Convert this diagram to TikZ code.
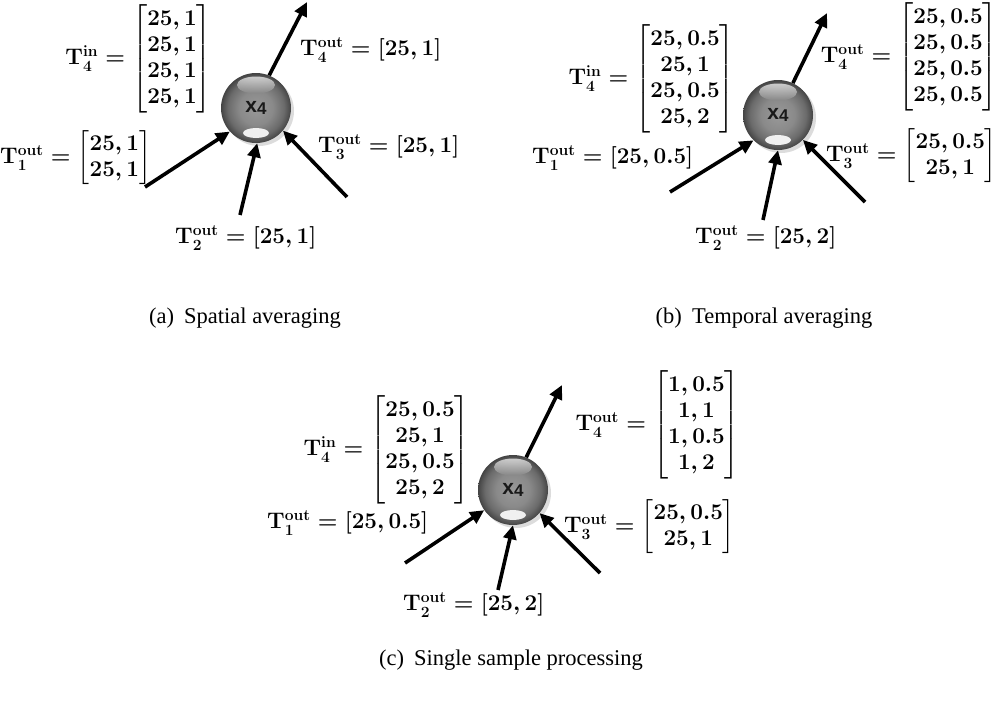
\documentclass[tikz,border=0pt]{standalone}
\usepackage{amsmath}
\usepackage{fontspec}
\newfontfamily\capfont{Liberation Serif}
\newfontfamily\sphfont{Liberation Sans}
\usetikzlibrary{arrows.meta,calc}
\pgfdeclareradialshading{sphereshade}{\pgfpoint{0bp}{0bp}}{color(0bp)=(black!40); color(12bp)=(black!46); color(20bp)=(black!58); color(24bp)=(black!70); color(25bp)=(black!74); color(50bp)=(black!74)}
\tikzset{
  sph/.style={circle, minimum size=70pt, inner sep=0pt, shading=sphereshade},
  lbl/.style={inner sep=0pt, font=\fontsize{20.74}{24}\selectfont},
  captext/.style={inner sep=0pt, font=\capfont\fontsize{22.5}{26}\selectfont},
  arr/.style={line width=3.6pt, -{Triangle[length=14pt,width=13pt]}}
}
\newcommand{\glossy}[1]{%
  \shade[top color=white!90!gray, bottom color=black!48, opacity=0.75] ($(#1)+(0,-23)$) ellipse [x radius=19pt, y radius=8.5pt];
  \fill[white!88!gray] ($(#1)+(0,25)$) ellipse [x radius=13pt, y radius=5pt];
}
\newcommand{\xfour}{\sphfont\bfseries\fontsize{21}{21}\selectfont x\raisebox{-1.5pt}{\fontsize{17}{17}\selectfont 4}}
\newcommand{\TT}[2]{\mathbf{T}^{\mathbf{#1}}_{#2}}
\setlength{\arraycolsep}{2.5pt}
\renewcommand{\arraystretch}{1.0}
\begin{document}
\begin{tikzpicture}[x=1pt,y=-1pt]
\useasboundingbox (0,0) rectangle (1000,701);
\boldmath
% ---------- panel (a)
\fill[black!30, opacity=0.45] (259,111) circle (35pt);
\node[sph] (xa) at (256,108) {};
\glossy{xa}
\node[text=black!90] (xat) at (xa) {\xfour};
\node[lbl, anchor=east] (a4in) at (212,59) {\scalebox{1.085}{$\TT{in}{4}=\begin{bmatrix}25,1\\25,1\\25,1\\25,1\end{bmatrix}$}};
\node[lbl, anchor=west] (a4out) at (300,50) {\scalebox{1.085}{$\TT{out}{4}=[25,1]$}};
\node[lbl, anchor=west] (a1out) at (0,158) {\scalebox{1.085}{$\TT{out}{1}=\begin{bmatrix}25,1\\25,1\end{bmatrix}$}};
\node[lbl, anchor=west] (a3out) at (318,147) {\scalebox{1.085}{$\TT{out}{3}=[25,1]$}};
\node[lbl, anchor=west] (a2out) at (175,238) {\scalebox{1.085}{$\TT{out}{2}=[25,1]$}};
\coordinate (ao) at (307,2);
\coordinate (a1) at (145,187);
\coordinate (a2) at (240,215);
\coordinate (a3) at (347,197);
\draw[arr] (xa.68) -- (ao);
\draw[arr] (a1) -- (xa.222);
\draw[arr] (a2) -- (xa.272);
\draw[arr] (a3) -- (xa.320);
\node[captext] (capa) at (245,318) {(a)\hspace{0.45em}Spatial averaging};
% ---------- panel (b)
\fill[black!30, opacity=0.45] (781,118) circle (35pt);
\node[sph] (xb) at (778,115) {};
\glossy{xb}
\node[text=black!90] (xbt) at (xb) {\xfour};
\node[lbl, anchor=east] (b4in) at (735,79) {\scalebox{1.085}{$\TT{in}{4}=\begin{bmatrix}25,0.5\\25,1\\25,0.5\\25,2\end{bmatrix}$}};
\node[lbl, anchor=east] (b4out) at (998,57) {\scalebox{1.085}{$\TT{out}{4}=\begin{bmatrix}25,0.5\\25,0.5\\25,0.5\\25,0.5\end{bmatrix}$}};
\node[lbl, anchor=west] (b1out) at (532,158) {\scalebox{1.085}{$\TT{out}{1}=[25,0.5]$}};
\node[lbl, anchor=east] (b3out) at (997,156) {\scalebox{1.085}{$\TT{out}{3}=\begin{bmatrix}25,0.5\\25,1\end{bmatrix}$}};
\node[lbl, anchor=west] (b2out) at (695,238) {\scalebox{1.085}{$\TT{out}{2}=[25,2]$}};
\coordinate (bo) at (827,13);
\coordinate (b1) at (670,192);
\coordinate (b2) at (763,220);
\coordinate (b3) at (865,202);
\draw[arr] (xb.65) -- (bo);
\draw[arr] (b1) -- (xb.226);
\draw[arr] (b2) -- (xb.270);
\draw[arr] (b3) -- (xb.315);
\node[captext] (capb) at (764,318) {(b)\hspace{0.45em}Temporal averaging};
% ---------- panel (c)
\fill[black!30, opacity=0.45] (516,493) circle (35pt);
\node[sph] (xc) at (513,490) {};
\glossy{xc}
\node[text=black!90] (xct) at (xc) {\xfour};
\node[lbl, anchor=east] (c4in) at (470,450) {\scalebox{1.085}{$\TT{in}{4}=\begin{bmatrix}25,0.5\\25,1\\25,0.5\\25,2\end{bmatrix}$}};
\node[lbl, anchor=east] (c4out) at (740,425) {\scalebox{1.085}{$\TT{out}{4}=\begin{bmatrix}1,0.5\\1,1\\1,0.5\\1,2\end{bmatrix}$}};
\node[lbl, anchor=west] (c1out) at (267,523) {\scalebox{1.085}{$\TT{out}{1}=[25,0.5]$}};
\node[lbl, anchor=east] (c3out) at (735,527) {\scalebox{1.085}{$\TT{out}{3}=\begin{bmatrix}25,0.5\\25,1\end{bmatrix}$}};
\node[lbl, anchor=west] (c2out) at (403,605) {\scalebox{1.085}{$\TT{out}{2}=[25,2]$}};
\coordinate (co) at (562,385);
\coordinate (c1) at (405,563);
\coordinate (c2) at (498,590);
\coordinate (c3) at (600,573);
\draw[arr] (xc.68) -- (co);
\draw[arr] (c1) -- (xc.215);
\draw[arr] (c2) -- (xc.270);
\draw[arr] (c3) -- (xc.319);
\node[captext] (capc) at (511,660) {(c)\hspace{0.45em}Single sample processing};
\end{tikzpicture}
\end{document}
